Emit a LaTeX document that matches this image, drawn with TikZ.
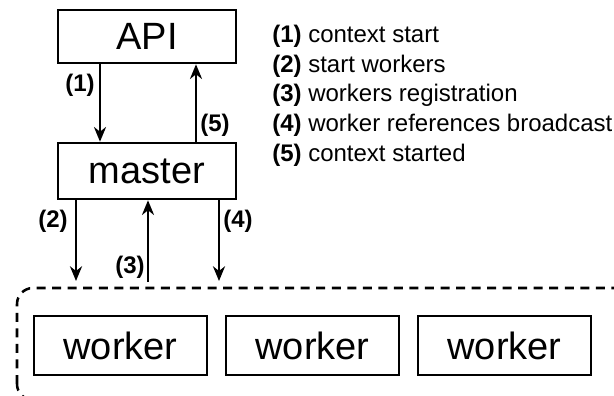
\documentclass[tikz,border=0pt]{standalone}
\usepackage{fontspec}
\setmainfont{Liberation Sans}
\usetikzlibrary{arrows.meta}
\begin{document}
\begin{tikzpicture}[x=0.75pt,y=-0.75pt,
  box/.style={draw=black, line width=1.9pt, rectangle, inner sep=0pt,
    font={\fontsize{28.5}{30}\selectfont}},
  wide/.style={box, minimum width=133.5pt},
  workerbox/.style={box, minimum width=129.75pt, minimum height=44.25pt},
  arr/.style={line width=1.9pt, -{Stealth[length=11pt,width=9pt,inset=3.5pt]}},
  tag/.style={font={\fontsize{18}{22}\selectfont\bfseries}, inner sep=0pt},
  legendline/.style={font={\fontsize{18}{22}\selectfont}, inner sep=0pt, anchor=base west},
  group/.style={draw=black, line width=1.9pt, dash pattern=on 6.75pt off 4.9pt, rounded corners=12pt}
]
\useasboundingbox (0,0) rectangle (614,396);

% service boxes
\node[wide, minimum height=39.75pt] (api) at (147,36.5) {API};
\node[wide, minimum height=42pt] (master) at (147,171) {master};

% worker pool
\draw[group] (17,400) -- (17,288) -- (660,288) -- (660,400) -- cycle;
\node[workerbox] (w1) at (120.5,345.5) {worker};
\node[workerbox] (w2) at (312.5,345.5) {worker};
\node[workerbox] (w3) at (504.5,345.5) {worker};

% message columns
\coordinate (c1) at (100,0);
\coordinate (c5) at (196,0);
\coordinate (t2) at (76,281);
\coordinate (t3) at (148,282);
\coordinate (t4) at (219,281);

\draw[arr] (api.south -| c1) -- (master.north -| c1);
\draw[arr] (master.north -| c5) -- (api.south -| c5);
\draw[arr] (master.south -| t2) -- (t2);
\draw[arr] (t3) -- (master.south -| t3);
\draw[arr] (master.south -| t4) -- (t4);

% message numbers
\node[tag] (n1) at (80,85) {(1)};
\node[tag] (n5) at (215,125) {(5)};
\node[tag] (n2) at (53,221) {(2)};
\node[tag] (n4) at (238,221) {(4)};
\node[tag] (n3) at (130,267) {(3)};

% legend
\node[legendline] (l1) at (272,42) {\textbf{(1)} context start};
\node[legendline] (l2) at (272,72) {\textbf{(2)} start workers};
\node[legendline] (l3) at (272,101.5) {\textbf{(3)} workers registration};
\node[legendline] (l4) at (272,131) {\textbf{(4)} worker references broadcast};
\node[legendline] (l5) at (272,161) {\textbf{(5)} context started};
\end{tikzpicture}
\end{document}
